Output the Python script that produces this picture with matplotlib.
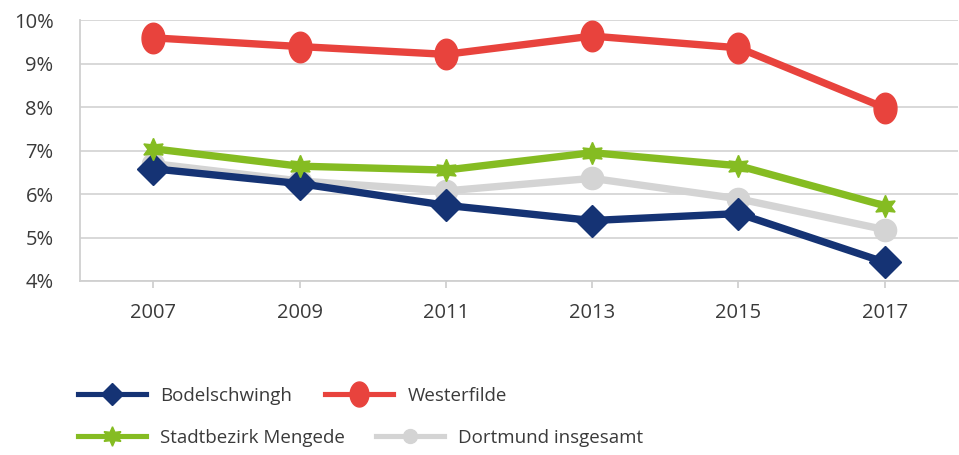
import matplotlib
matplotlib.use("Agg")
import matplotlib.pyplot as plt
import numpy as np
from matplotlib.path import Path
from matplotlib.lines import Line2D

years = ["2007", "2009", "2011", "2013", "2015", "2017"]
bodelschwingh = [6.58, 6.24, 5.74, 5.39, 5.55, 4.43]
westerfilde = [9.59, 9.39, 9.21, 9.63, 9.36, 7.98]
mengede = [7.04, 6.64, 6.55, 6.95, 6.65, 5.73]
dortmund = [6.70, 6.30, 6.07, 6.36, 5.89, 5.18]
y_ticks = [4, 5, 6, 7, 8, 9, 10]
y_labels = ["4%", "5%", "6%", "7%", "8%", "9%", "10%"]
series_names = ["Bodelschwingh", "Westerfilde", "Stadtbezirk Mengede", "Dortmund insgesamt"]

plt.rcParams['font.family'] = ['Open Sans', 'DejaVu Sans']
TXT = '#3a3a3a'
C_BLUE = '#153374'
C_RED = '#E8433D'
C_GREEN = '#85BC22'
C_GRAY = '#D4D4D4'

# vertical ellipse marker
t = np.linspace(0, 2 * np.pi, 60)
ell = Path(np.column_stack([0.75 * np.cos(t), np.sin(t)]), closed=True)

fig = plt.figure(figsize=(9.59, 4.55), dpi=100)
ax = fig.add_axes([80 / 959, 1 - 281 / 455, 878 / 959, 261 / 455])

x = np.arange(len(years))
lw = 5.3
ax.plot(x, dortmund, color=C_GRAY, lw=lw, marker='o', ms=16, zorder=3)
ax.plot(x, bodelschwingh, color=C_BLUE, lw=lw, marker='D', ms=16, zorder=4)
ax.plot(x, mengede, color=C_GREEN, lw=lw, marker=(6, 1, 0), ms=16, zorder=5)
ax.plot(x, westerfilde, color=C_RED, lw=lw, marker=ell, ms=22, zorder=6)

ax.set_xlim(-0.5, len(years) - 0.5)
ax.set_ylim(4, 10)
ax.set_xticks(x)
ax.set_xticklabels(years)
ax.set_yticks(y_ticks)
ax.set_yticklabels(y_labels)
ax.grid(axis='y', color='#d6d6d6', lw=1.3)
ax.set_axisbelow(True)
for s in ['top', 'right']:
    ax.spines[s].set_visible(False)
for s in ['left', 'bottom']:
    ax.spines[s].set_color('#d0d0d0')
    ax.spines[s].set_linewidth(1.3)
ax.tick_params(axis='y', length=0, pad=19, labelsize=14.5, labelcolor=TXT)
ax.tick_params(axis='x', length=5, width=1.3, color='#d0d0d0', pad=11, labelsize=14.5, labelcolor=TXT)

def handle(color, marker, ms):
    return Line2D([], [], color=color, lw=3.7, marker=marker, ms=ms)

handles = [handle(C_BLUE, 'D', 11), handle(C_RED, ell, 18),
           handle(C_GREEN, (6, 1, 0), 14), handle(C_GRAY, 'o', 10)]
positions = [(78, 396), (325, 396), (78, 438), (376, 438)]
for h, name, (px, py) in zip(handles, series_names, positions):
    fig.legend([h], [name], frameon=False, fontsize=13.5, handlelength=3.6,
               handletextpad=0.8, labelcolor=TXT, loc='center left',
               borderaxespad=0, borderpad=0,
               bbox_to_anchor=(px / 959, 1 - py / 455))

fig.savefig('out.png', dpi=100)
